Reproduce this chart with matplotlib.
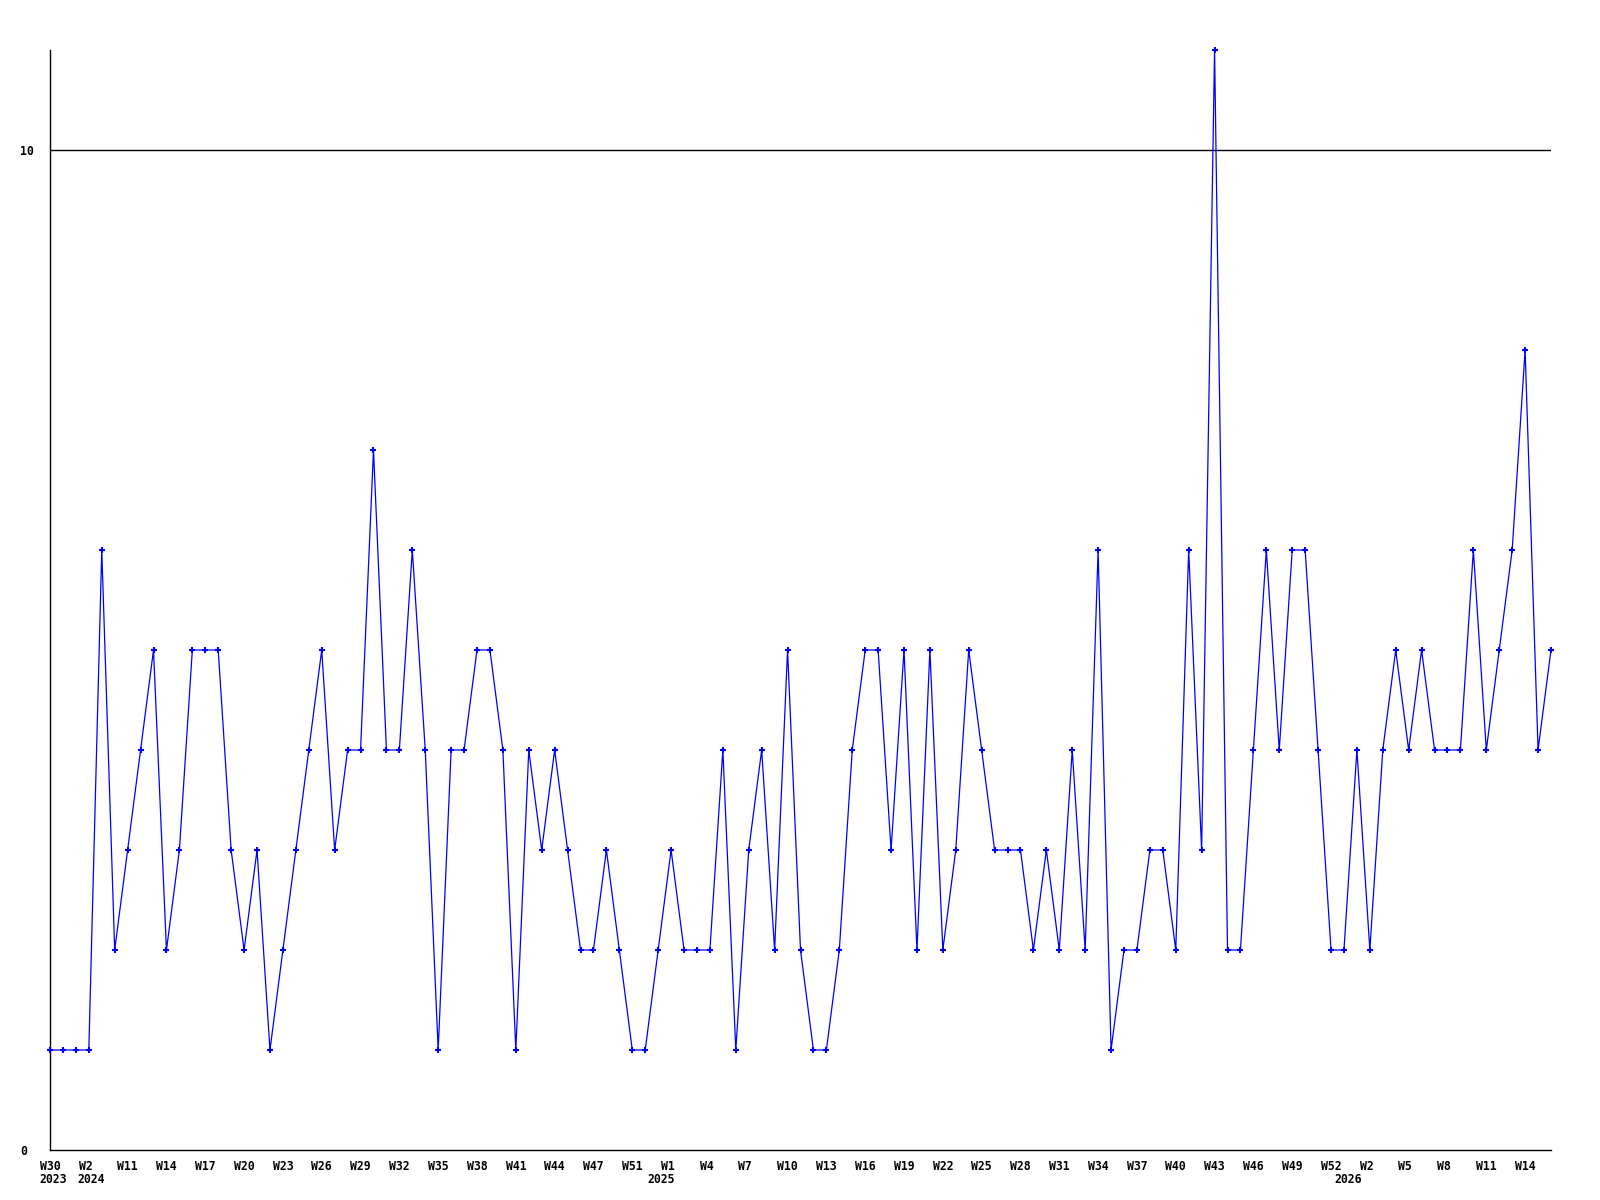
import matplotlib
matplotlib.use("Agg")
import matplotlib.pyplot as plt
import numpy as np

values = [1, 1, 1, 1, 6, 2, 3, 4, 5, 2, 3, 5, 5, 5, 3, 2, 3, 1, 2, 3,
          4, 5, 3, 4, 4, 7, 4, 4, 6, 4, 1, 4, 4, 5, 5, 4, 1, 4, 3, 4,
          3, 2, 2, 3, 2, 1, 1, 2, 3, 2, 2, 2, 4, 1, 3, 4, 2, 5, 2, 1,
          1, 2, 4, 5, 5, 3, 5, 2, 5, 2, 3, 5, 4, 3, 3, 3, 2, 3, 2, 4,
          2, 6, 1, 2, 2, 3, 3, 2, 6, 3, 11, 2, 2, 4, 6, 4, 6, 6, 4, 2,
          2, 4, 2, 4, 5, 4, 5, 4, 4, 4, 6, 4, 5, 6, 8, 4, 5]

week_tick_idx = [0, 3, 6, 9, 12, 15, 18, 21, 24, 27, 30, 33, 36, 39, 42, 45,
                 48, 51, 54, 57, 60, 63, 66, 69, 72, 75, 78, 81, 84, 87, 90,
                 93, 96, 99, 102, 105, 108, 111, 114]
week_labels = ["W30", "W2 ", "W11", "W14", "W17", "W20", "W23", "W26", "W29",
               "W32", "W35", "W38", "W41", "W44", "W47", "W51", "W1 ", "W4 ",
               "W7 ", "W10", "W13", "W16", "W19", "W22", "W25", "W28", "W31",
               "W34", "W37", "W40", "W43", "W46", "W49", "W52", "W2 ", "W5 ",
               "W8 ", "W11", "W14"]
year_pos = [0.26, 3.2, 47.2, 100.3]
year_labels = ["2023", "2024", "2025", "2026"]

fig = plt.figure(figsize=(16, 12), dpi=100)
ax = fig.add_axes([50/1600, 50/1200, 1501/1600, 1100/1200])

x = np.arange(len(values))
ax.plot(x, values, color="#0000FF", linewidth=0.9, marker="+", markersize=4.5,
        markeredgewidth=1.5, clip_on=False, zorder=3)

ax.set_xlim(0, len(values) - 1)
ax.set_ylim(0, 11)
ax.axhline(10, color="black", linewidth=1.0, zorder=1)

for s in ["top", "right"]:
    ax.spines[s].set_visible(False)
for s in ["left", "bottom"]:
    ax.spines[s].set_color("black")
    ax.spines[s].set_linewidth(1.0)

font = dict(family="DejaVu Sans Mono", weight="bold", size=8.3)

ax.set_yticks([0, 10])
ax.set_yticklabels(["0", "10"], ha="left", **font)
ax.tick_params(axis="y", length=0, pad=21.6)

ax.set_xticks(week_tick_idx)
ax.set_xticklabels(week_labels, **font)
ax.tick_params(axis="x", length=0, pad=7.5)

for xp, lab in zip(year_pos, year_labels):
    ax.annotate(lab, xy=(xp, 0), xycoords=("data", "axes fraction"),
                xytext=(0, -23), textcoords="offset pixels",
                ha="center", va="top", annotation_clip=False, **font)

fig.savefig("out.png", dpi=100, facecolor="white")
